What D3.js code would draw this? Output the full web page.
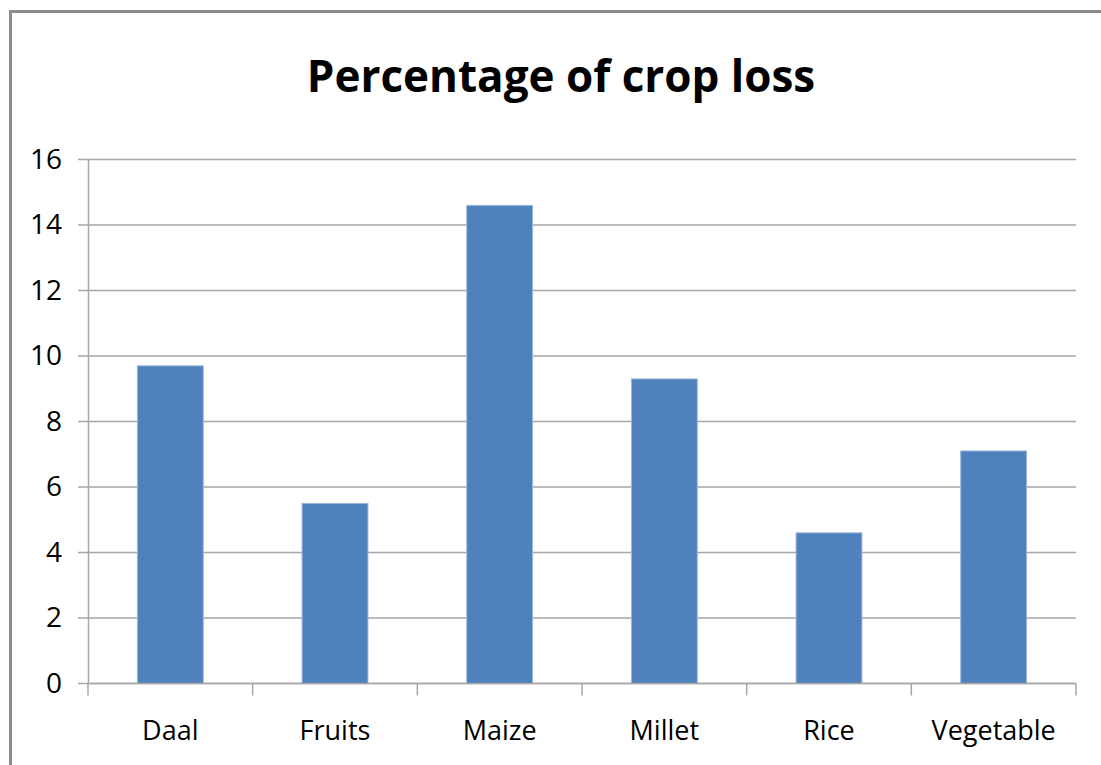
<!DOCTYPE html>
<html>
<head>
<meta charset="utf-8">
<script src="https://cdn.jsdelivr.net/npm/d3@7"></script>
<style>
  html, body { margin: 0; padding: 0; background: #fff; }
  svg { display: block; }
  text { font-family: "Open Sans", "Noto Sans", sans-serif; fill: #000; }
</style>
</head>
<body>
<svg id="chart" width="1101" height="765"></svg>
<script>
// Crop loss percentages by crop type
const categories = ["Daal", "Fruits", "Maize", "Millet", "Rice", "Vegetable"];
const lossValues = [9.7, 5.5, 14.6, 9.3, 4.6, 7.1];
const yTicks = [0, 2, 4, 6, 8, 10, 12, 14, 16];
const chartTitle = "Percentage of crop loss";

const svg = d3.select("#chart");
const W = 1101, H = 765;
const margin = { left: 88, right: W - 1076, top: 159.5, bottom: H - 683.5 };

// Outer chart frame (runs past the right and bottom edges)
svg.append("rect")
  .attr("x", 10.5).attr("y", 11.5)
  .attr("width", W + 20).attr("height", H + 20)
  .attr("fill", "none")
  .attr("stroke", "#8c8c8c")
  .attr("stroke-width", 3);

const x = d3.scaleBand()
  .domain(categories)
  .range([margin.left, W - margin.right])
  .paddingInner(0.6)
  .paddingOuter(0.3);

const y = d3.scaleLinear()
  .domain([0, 16])
  .range([H - margin.bottom, margin.top]);

// Horizontal gridlines
svg.append("g")
  .selectAll("line")
  .data(yTicks)
  .join("line")
  .attr("x1", margin.left - 10)
  .attr("x2", W - margin.right)
  .attr("y1", d => y(d))
  .attr("y2", d => y(d))
  .attr("stroke", "#a6a6a6")
  .attr("stroke-width", 1.5);

// Y axis (labels + vertical line)
const yAxis = svg.append("g")
  .attr("transform", `translate(${margin.left},0)`)
  .call(d3.axisLeft(y).tickValues(yTicks).tickSize(0).tickPadding(26));
yAxis.select(".domain").attr("stroke", "#a6a6a6").attr("stroke-width", 1.5);
yAxis.selectAll("text")
  .attr("font-size", 28)
  .attr("font-family", "'Open Sans', sans-serif")
  .attr("fill", "#000");

// Bars
svg.append("g")
  .selectAll("rect")
  .data(categories.map((c, i) => ({ c, v: lossValues[i] })))
  .join("rect")
  .attr("x", d => x(d.c))
  .attr("width", x.bandwidth())
  .attr("y", d => y(d.v))
  .attr("height", d => y(0) - y(d.v))
  .attr("fill", "#4f81bd")
  .attr("stroke", "#9cb8dc")
  .attr("stroke-width", 1);

// X axis baseline, tick marks between categories, and labels
const bounds = d3.range(categories.length + 1).map(i => margin.left + i * (W - margin.left - margin.right) / categories.length);
const xAxis = svg.append("g");
xAxis.append("line")
  .attr("x1", margin.left).attr("x2", W - margin.right)
  .attr("y1", y(0)).attr("y2", y(0))
  .attr("stroke", "#a6a6a6").attr("stroke-width", 1.5);
xAxis.selectAll("line.tick")
  .data(bounds)
  .join("line")
  .attr("class", "tick")
  .attr("x1", d => d).attr("x2", d => d)
  .attr("y1", y(0)).attr("y2", y(0) + 12)
  .attr("stroke", "#a6a6a6").attr("stroke-width", 1.5);
xAxis.selectAll("text")
  .data(categories)
  .join("text")
  .attr("x", d => x(d) + x.bandwidth() / 2)
  .attr("y", 740)
  .attr("text-anchor", "middle")
  .attr("font-size", 27)
  .text(d => d);

// Title
svg.append("text")
  .attr("x", 561)
  .attr("y", 92)
  .attr("text-anchor", "middle")
  .attr("font-size", 44)
  .attr("font-weight", "bold")
  .text(chartTitle);
</script>
</body>
</html>
